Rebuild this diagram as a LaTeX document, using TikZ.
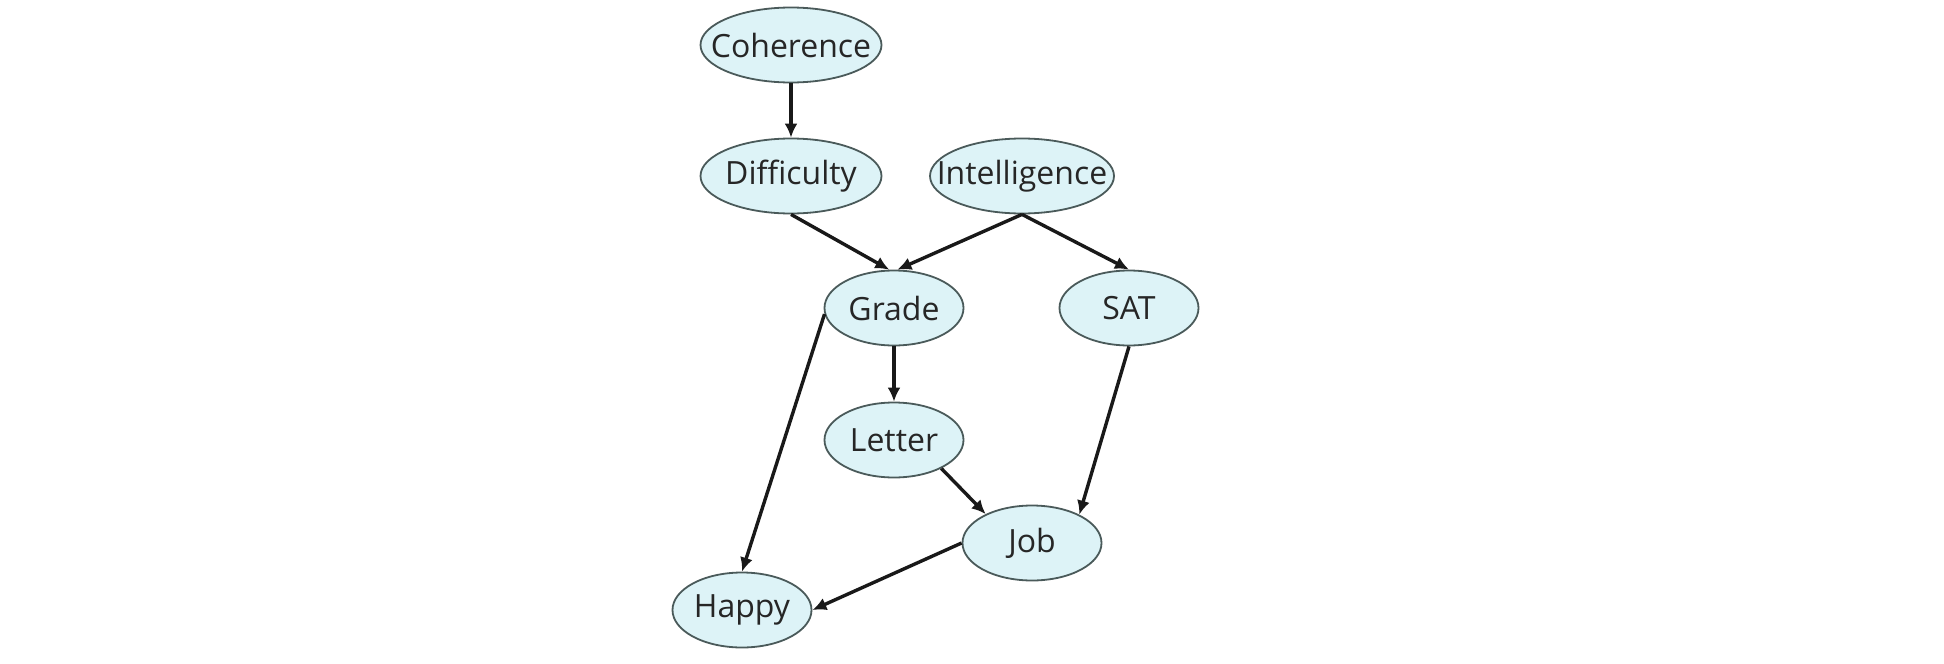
\documentclass[tikz,border=0pt]{standalone}
\usepackage{fontspec}
\setmainfont{Open Sans}
\usepackage{tikz}
\usetikzlibrary{shapes.geometric}
\usetikzlibrary{arrows.meta}

\definecolor{nodefill}{HTML}{DDF3F7}
\definecolor{nodeline}{HTML}{4A5A5A}
\newcommand{\varname}[1]{\makebox[0pt]{#1}}

\tikzset{
  var/.style={ellipse,draw=nodeline,fill=nodefill,line width=1.8pt,inner sep=0pt,
    minimum width=139pt,minimum height=75pt,font=\fontsize{32}{38}\selectfont,text=black!85},
  widevar/.style={var,minimum width=181pt},
  dep/.style={-{Latex[length=14pt,width=13pt]},line width=3.4pt,black!90}
}

\begin{document}
\begin{tikzpicture}[x=1pt,y=-1pt]
      \useasboundingbox[fill=white] (0,0) rectangle (1944,664);

      \node[widevar] (coh) at (791,45) {\varname{Coherence}};
      \node[widevar] (diff) at (791,176) {\varname{Difficulty}};
      \node[widevar,minimum width=184pt] (intel) at (1022,176) {\varname{Intelligence}};
      \node[var] (grade) at (894,308) {\varname{Grade}};
      \node[var] (sat) at (1129,308) {\varname{SAT}};
      \node[var] (letter) at (894,440) {\varname{Letter}};
      \node[var] (job) at (1032,543) {\varname{Job}};
      \node[var] (happy) at (742,610) {\varname{Happy}};

      \draw[dep] (coh.south) -- (diff.north);
      \draw[dep] (diff.south) -- (grade.97);
      \draw[dep] (intel.south) -- (grade.85);
      \draw[dep] (intel.south) -- (sat.north);
      \draw[dep] (grade.south) -- (letter.north);
      \draw[dep] (grade.-175) -- (happy.north);
      \draw[dep] (sat.south) -- (job.31);
      \draw[dep] (letter.-31) -- (job.148);
      \draw[dep] (job.west) -- (happy.east);
    \end{tikzpicture}
\end{document}
